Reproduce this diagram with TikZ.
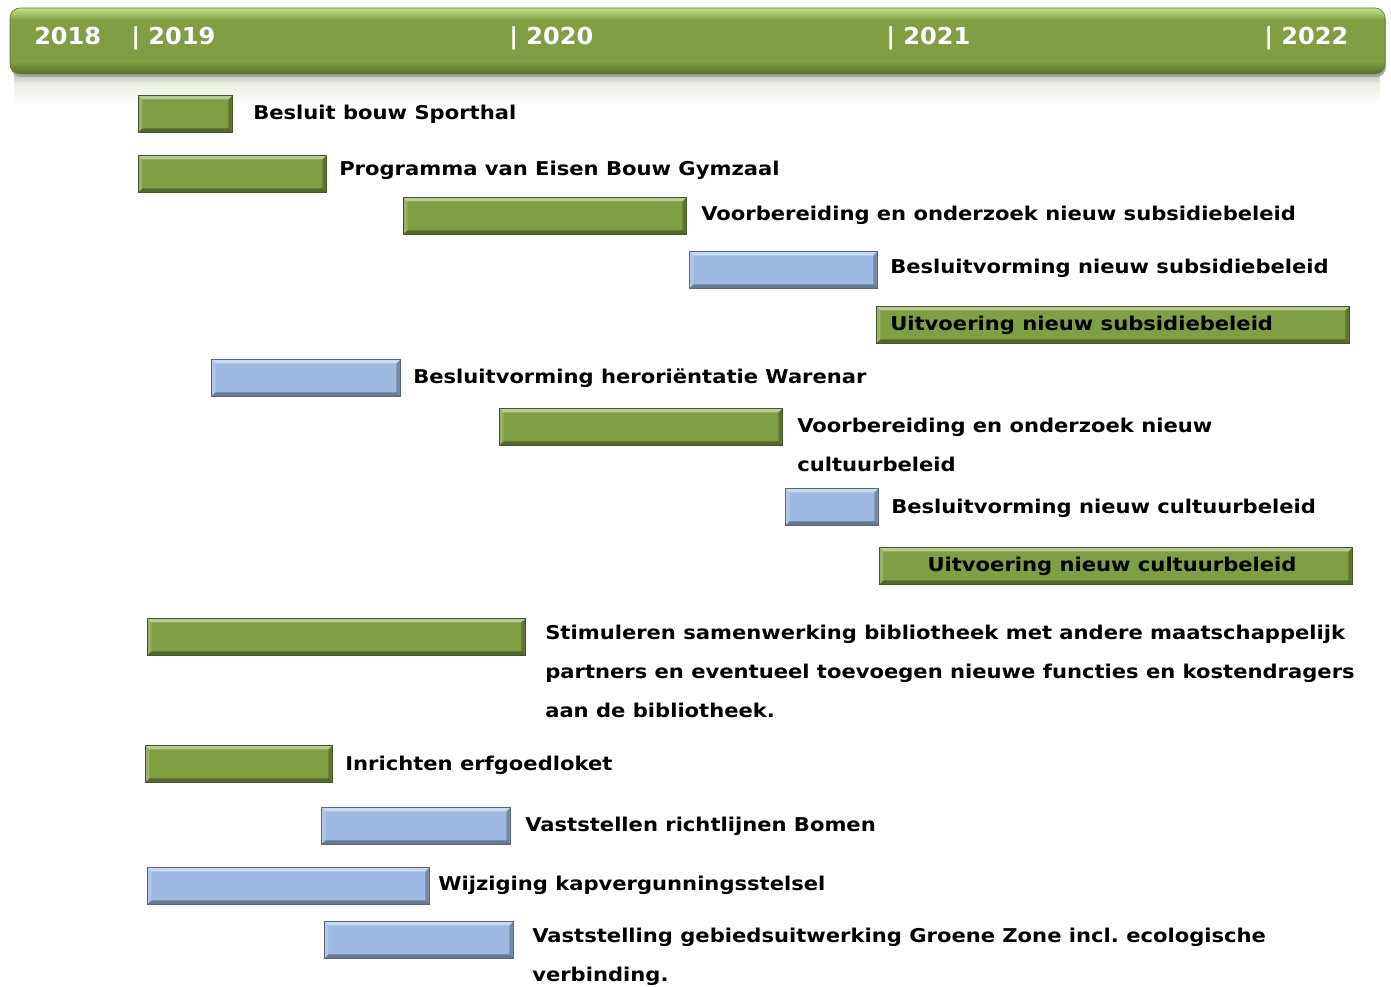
\documentclass[tikz,border=0pt]{standalone}
\usepackage{fontspec}
\newfontfamily\verd{DejaVu Sans}[FakeStretch=1.11]
\newfontfamily\verdyr{DejaVu Sans}[FakeStretch=1.03]
\usepackage{tikz}
\usetikzlibrary{positioning}
\frenchspacing

\definecolor{barGreen}{RGB}{128,158,68}
\definecolor{barBlue}{RGB}{158,186,226}
\definecolor{hiGreen}{RGB}{198,226,140}

\tikzset{
	bar/.style={rectangle, draw=#1!55!black, line width=0.6pt, fill=#1, inner sep=0pt,
		minimum height=27.75pt, anchor=north west,
		path picture={
			\fill[white,opacity=.45] (path picture bounding box.north west) -- (path picture bounding box.north east)
				-- ([shift={(-3pt,-3pt)}]path picture bounding box.north east) -- ([shift={(3pt,-3pt)}]path picture bounding box.north west) -- cycle;
			\fill[white,opacity=.2] (path picture bounding box.north west) -- (path picture bounding box.south west)
				-- ([shift={(3pt,3pt)}]path picture bounding box.south west) -- ([shift={(3pt,-3pt)}]path picture bounding box.north west) -- cycle;
			\fill[black,opacity=.35] (path picture bounding box.south west) -- (path picture bounding box.south east)
				-- ([shift={(-3pt,3pt)}]path picture bounding box.south east) -- ([shift={(3pt,3pt)}]path picture bounding box.south west) -- cycle;
			\fill[black,opacity=.25] (path picture bounding box.north east) -- (path picture bounding box.south east)
				-- ([shift={(-3pt,3pt)}]path picture bounding box.south east) -- ([shift={(-3pt,-3pt)}]path picture bounding box.north east) -- cycle;
		}},
	lbl/.style={anchor=base west, inner sep=0pt, align=left,
		font=\verd\bfseries\fontsize{14.25}{28.9}\selectfont},
	yearlbl/.style={anchor=base west, inner sep=0pt, text=white,
		font=\verdyr\bfseries\fontsize{17.5}{20}\selectfont},
}

\begin{document}
\begin{tikzpicture}[x=0.75pt,y=-0.75pt]
		\useasboundingbox (0,0) rectangle (1391,987);

		% timeline header
		\fill[barGreen!40!white] (14,76) rectangle (1380,104);
		\shade[top color=black!25, bottom color=barGreen!15!white] (14,74) rectangle (1380,84);
		\shade[top color=barGreen!15!white, bottom color=white] (14,84) rectangle (1380,106);
		\fill[black!35] (11,11) [rounded corners=7.5pt] rectangle (1386,77);
		\begin{scope}
			\clip[rounded corners=7.5pt] (10,8) rectangle (1385,74);
			\fill[barGreen] (10,8) rectangle (1385,74);
			\shade[top color=hiGreen, bottom color=barGreen] (10,8) rectangle (1385,20);
			\shade[top color=barGreen, bottom color=barGreen!70!black] (10,62) rectangle (1385,74);
		\end{scope}
		\draw[barGreen!80!black, line width=0.5pt, rounded corners=7.5pt] (10,8) rectangle (1385,74);

		\foreach \x/\yr [count=\i] in {34/2018, 131/{| 2019}, 509/{| 2020}, 886/{| 2021}, 1264/{| 2022}}{
			\node[yearlbl] (yr\i) at (\x,45) {\yr};
		}

		% bars
		\node[bar=barGreen, minimum width=70.5pt] (sporthal) at (138,95) {};
		\node[bar=barGreen, minimum width=141pt] (pve) at (138,155) {};
		\node[bar=barGreen, minimum width=212.25pt] (voorsub) at (403,197) {};
		\node[bar=barBlue, minimum width=141pt] (besub) at (689,251) {};
		\node[bar=barGreen, minimum width=354.75pt] (uitsub) at (876,306) {};
		\node[bar=barBlue, minimum width=141.75pt] (warenar) at (211,359) {};
		\node[bar=barGreen, minimum width=212.25pt] (voorcult) at (499,408) {};
		\node[bar=barBlue, minimum width=69.75pt] (becult) at (785,488) {};
		\node[bar=barGreen, minimum width=354.75pt] (uitcult) at (879,547) {};
		\node[bar=barGreen, minimum width=283.5pt] (biblio) at (147,618) {};
		\node[bar=barGreen, minimum width=140.25pt] (erfgoed) at (145,745) {};
		\node[bar=barBlue, minimum width=141.75pt] (bomen) at (321,807) {};
		\node[bar=barBlue, minimum width=211.5pt] (kapverg) at (147,867) {};
		\node[bar=barBlue, minimum width=141.75pt] (groen) at (324,921) {};

		% labels (multi-line ones sit on their last line)
		\node[lbl] (lsporthal) at (253,120) {Besluit bouw Sporthal};
		\node[lbl] (lpve) at (339,176) {Programma van Eisen Bouw Gymzaal};
		\node[lbl] (lvoorsub) at (701,221) {Voorbereiding en onderzoek nieuw subsidiebeleid};
		\node[lbl] (lbesub) at (890,274) {Besluitvorming nieuw subsidiebeleid};
		\node[lbl] (luitsub) at (890,330) {Uitvoering nieuw subsidiebeleid};
		\node[lbl] (lwarenar) at (413,383) {Besluitvorming heroriëntatie Warenar};
		\node[lbl] (lvoorcult) at (797,471.5) {Voorbereiding en onderzoek nieuw\\cultuurbeleid};
		\node[lbl] (lbecult) at (891,513) {Besluitvorming nieuw cultuurbeleid};
		\node[lbl, anchor=base] (luitcult) at (1112,571) {Uitvoering nieuw cultuurbeleid};
		\node[lbl] (lbiblio) at (545,717) {Stimuleren samenwerking bibliotheek met andere maatschappelijk\\partners en eventueel toevoegen nieuwe functies en kostendragers\\aan de bibliotheek.};
		\node[lbl] (lerfgoed) at (345,770) {Inrichten erfgoedloket};
		\node[lbl] (lbomen) at (525,831) {Vaststellen richtlijnen Bomen};
		\node[lbl] (lkapverg) at (438,890) {Wijziging kapvergunningsstelsel};
		\node[lbl] (lgroen) at (532,981.5) {Vaststelling gebiedsuitwerking Groene Zone incl. ecologische\\verbinding.};
\end{tikzpicture}
\end{document}
